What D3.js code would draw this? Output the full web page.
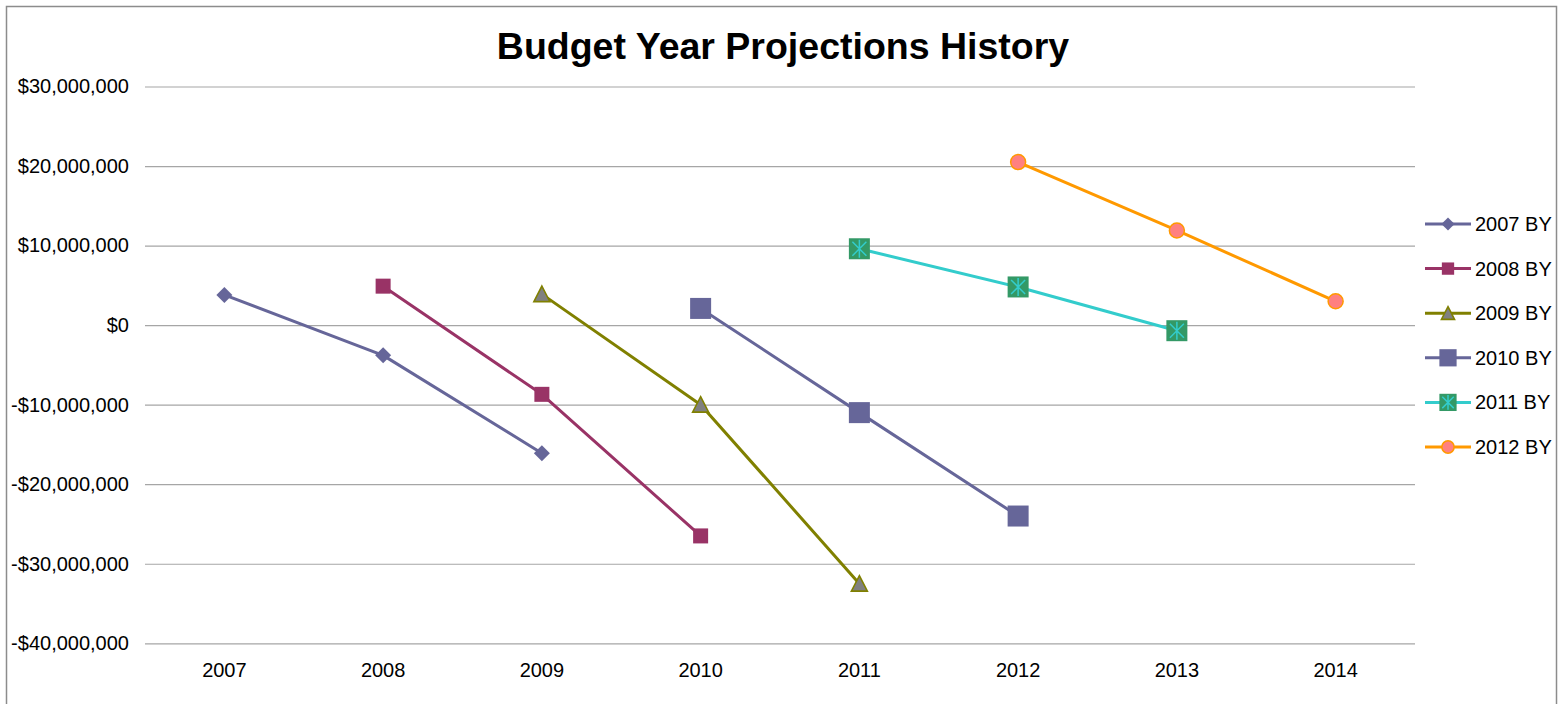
<!DOCTYPE html>
<html>
<head>
<meta charset="utf-8">
<script src="https://cdn.jsdelivr.net/npm/d3@7/dist/d3.min.js"></script>
<style>
  html, body { margin: 0; padding: 0; background: #fff; }
  svg { display: block; font-family: "Liberation Sans", Arial, sans-serif; }
</style>
</head>
<body>
<svg id="chart" width="1566" height="704"></svg>
<script>
// ---- data ----
const title = "Budget Year Projections History";
const categories = ["2007", "2008", "2009", "2010", "2011", "2012", "2013", "2014"];
const seriesNames = ["2007 BY", "2008 BY", "2009 BY", "2010 BY", "2011 BY", "2012 BY"];
const by2007 = [3.8e6, -3.8e6, -16.1e6, null, null, null, null, null];
const by2008 = [null, 4.9e6, -8.7e6, -26.5e6, null, null, null, null];
const by2009 = [null, null, 3.9e6, -10.0e6, -32.5e6, null, null, null];
const by2010 = [null, null, null, 2.1e6, -11.0e6, -24.0e6, null, null];
const by2011 = [null, null, null, null, 9.6e6, 4.8e6, -0.7e6, null];
const by2012 = [null, null, null, null, null, 20.5e6, 11.9e6, 3.0e6];
const yTicks = [30e6, 20e6, 10e6, 0, -10e6, -20e6, -30e6, -40e6];

const seriesValues = [by2007, by2008, by2009, by2010, by2011, by2012];

// ---- styles ----
const styles = [
  { line: "#666699", marker: "diamond", fill: "#666699" },
  { line: "#993366", marker: "square", fill: "#993366" },
  { line: "#808000", marker: "triangle", fill: "#808080", stroke: "#808000" },
  { line: "#666699", marker: "bigsquare", fill: "#666699" },
  { line: "#33CCCC", marker: "star", fill: "#339966", stroke: "#33CCCC" },
  { line: "#FF9900", marker: "circle", fill: "#FF8080", stroke: "#FF9900" }
];

const svg = d3.select("#chart");
const W = 1566, H = 704;
svg.append("rect").attr("width", W).attr("height", H).attr("fill", "#fff");
svg.append("rect").attr("x", 6.5).attr("y", 6.5).attr("width", 1550).attr("height", 740)
  .attr("fill", "none").attr("stroke", "#8c8c8c").attr("stroke-width", 1.5);

const plot = { left: 145, right: 1415, top: 86.5, bottom: 643.3 };

const x = d3.scaleBand().domain(categories).range([plot.left, plot.right]).padding(0);
const cx = c => x(c) + x.bandwidth() / 2;
const y = d3.scaleLinear().domain([-40e6, 30e6]).range([plot.bottom, plot.top]);

const fmt = v => (v < 0 ? "-$" : "$") + d3.format(",")(Math.abs(v));

// title
svg.append("text").attr("x", 783).attr("y", 59).attr("text-anchor", "middle")
  .attr("font-size", 37.5).attr("font-weight", "bold").attr("fill", "#000").text(title);

// y axis with gridlines
const yAxis = svg.append("g").attr("transform", `translate(${plot.left},0)`)
  .call(d3.axisLeft(y).tickValues(yTicks).tickFormat(fmt)
    .tickSizeInner(-(plot.right - plot.left)).tickSizeOuter(0).tickPadding(16));
yAxis.select(".domain").remove();
yAxis.selectAll(".tick line").attr("stroke", "#a6a6a6").attr("stroke-width", 1.2);
yAxis.selectAll(".tick text").attr("font-size", 20).attr("fill", "#000")
  .attr("font-family", "Liberation Sans, Arial, sans-serif");

// x axis
const xAxis = svg.append("g").attr("transform", `translate(0,${plot.bottom})`)
  .call(d3.axisBottom(x).tickSize(0).tickPadding(20));
xAxis.select(".domain").remove();
xAxis.selectAll(".tick text").attr("font-size", 20).attr("fill", "#000")
  .attr("font-family", "Liberation Sans, Arial, sans-serif");

// marker drawer
function drawMarker(g, st, s) {
  s = s || 1;
  switch (st.marker) {
    case "diamond":
      g.append("path").attr("d", `M0,${-8*s}L${8*s},0L0,${8*s}L${-8*s},0Z`).attr("fill", st.fill);
      break;
    case "square":
      g.append("rect").attr("x", -7.5*s).attr("y", -7.5*s).attr("width", 15*s).attr("height", 15*s).attr("fill", st.fill);
      break;
    case "triangle":
      g.append("path").attr("d", `M0,${-8*s}L${8*s},${7.5*s}L${-8*s},${7.5*s}Z`)
        .attr("fill", st.fill).attr("stroke", st.stroke).attr("stroke-width", 1.6).attr("stroke-linejoin", "miter");
      break;
    case "bigsquare":
      g.append("rect").attr("x", -10.5*s).attr("y", -10.5*s).attr("width", 21*s).attr("height", 21*s).attr("fill", st.fill);
      break;
    case "star":
      g.append("rect").attr("x", -10.5*s).attr("y", -10.5*s).attr("width", 21*s).attr("height", 21*s).attr("fill", st.fill);
      g.append("path").attr("d",
        `M0,${-9*s}L0,${9*s}M${-7*s},${-7*s}L${7*s},${7*s}M${-7*s},${7*s}L${7*s},${-7*s}`)
        .attr("stroke", st.stroke).attr("stroke-width", 1.5).attr("fill", "none");
      break;
    case "circle":
      g.append("circle").attr("r", 7.5*s).attr("fill", st.fill).attr("stroke", st.stroke).attr("stroke-width", 1.5);
      break;
  }
}

// series
const line = d3.line().defined(d => d.v != null).x(d => cx(d.c)).y(d => y(d.v));
seriesValues.forEach((vals, i) => {
  const st = styles[i];
  const pts = categories.map((c, j) => ({ c, v: vals[j] }));
  const g = svg.append("g").attr("class", "series");
  g.append("path").datum(pts).attr("d", line).attr("fill", "none")
    .attr("stroke", st.line).attr("stroke-width", 3).attr("stroke-linejoin", "round");
  pts.filter(d => d.v != null).forEach(d => {
    const mg = g.append("g").attr("transform", `translate(${cx(d.c)},${y(d.v)})`);
    drawMarker(mg, st, 1);
  });
});

// legend
const legend = svg.append("g");
const legY0 = 224, legStep = 44.6;
seriesNames.forEach((name, i) => {
  const st = styles[i];
  const ly = legY0 + i * legStep;
  const g = legend.append("g").attr("transform", `translate(0,${ly})`);
  g.append("line").attr("x1", 1425).attr("x2", 1471).attr("y1", 0).attr("y2", 0)
    .attr("stroke", st.line).attr("stroke-width", 3);
  const mg = g.append("g").attr("transform", `translate(1448,0)`);
  drawMarker(mg, st, 0.82);
  g.append("text").attr("x", 1475).attr("y", 0).attr("dy", "0.35em")
    .attr("font-size", 20).attr("fill", "#000").text(name);
});
</script>
</body>
</html>
